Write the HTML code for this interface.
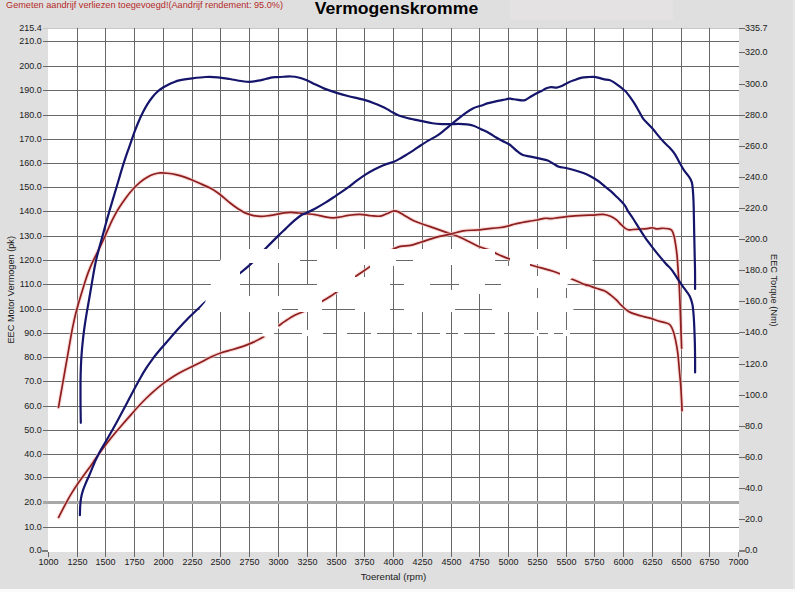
<!DOCTYPE html>
<html><head><meta charset="utf-8"><style>
html,body{margin:0;padding:0;background:#dfdfdf;}
svg{display:block;}
text{font-family:"Liberation Sans",sans-serif;}
</style></head><body>
<svg width="795" height="592" viewBox="0 0 795 592">
<defs><clipPath id="isl"><rect x="240" y="263" width="67" height="33"/><rect x="300" y="240" width="17" height="45"/><rect x="322" y="292" width="33" height="23"/><rect x="355" y="265" width="15" height="12"/><rect x="390" y="266" width="14" height="56"/><rect x="396" y="255" width="17" height="11"/><rect x="430" y="265" width="29" height="25"/><rect x="455" y="294" width="37" height="28"/><rect x="485" y="278" width="16" height="12"/><rect x="495" y="240" width="15" height="26"/><rect x="530" y="264" width="30" height="12"/><rect x="530" y="288" width="40" height="10"/><rect x="282" y="305" width="16" height="7"/></clipPath></defs>
<rect x="0" y="0" width="795" height="592" fill="#dfdfdf"/><rect x="510" y="0" width="163" height="20" fill="#e4e2e3"/><rect x="0" y="589" width="795" height="3" fill="#fbfbfb"/><rect x="793" y="0" width="2" height="589" fill="#e6e6e6"/><rect x="48" y="28" width="691" height="524" fill="#ffffff"/><line x1="48.5" y1="552" x2="48.5" y2="557" stroke="#686868" stroke-width="1"/><line x1="738.5" y1="552" x2="738.5" y2="557" stroke="#686868" stroke-width="1"/><line x1="43" y1="28.5" x2="739" y2="28.5" stroke="#c8c8c8" stroke-width="1"/><rect x="42" y="550" width="6" height="2" fill="#808080"/><rect x="739" y="550" width="6" height="2" fill="#808080"/><line x1="739" y1="519.5" x2="745" y2="519.5" stroke="#686868" stroke-width="1"/><line x1="739" y1="488.5" x2="745" y2="488.5" stroke="#686868" stroke-width="1"/><line x1="739" y1="457.5" x2="745" y2="457.5" stroke="#686868" stroke-width="1"/><line x1="739" y1="426.5" x2="745" y2="426.5" stroke="#686868" stroke-width="1"/><line x1="739" y1="395.5" x2="745" y2="395.5" stroke="#686868" stroke-width="1"/><line x1="739" y1="364.5" x2="745" y2="364.5" stroke="#686868" stroke-width="1"/><line x1="739" y1="332.5" x2="745" y2="332.5" stroke="#686868" stroke-width="1"/><line x1="739" y1="301.5" x2="745" y2="301.5" stroke="#686868" stroke-width="1"/><line x1="739" y1="270.5" x2="745" y2="270.5" stroke="#686868" stroke-width="1"/><line x1="739" y1="239.5" x2="745" y2="239.5" stroke="#686868" stroke-width="1"/><line x1="739" y1="208.5" x2="745" y2="208.5" stroke="#686868" stroke-width="1"/><line x1="739" y1="177.5" x2="745" y2="177.5" stroke="#686868" stroke-width="1"/><line x1="739" y1="146.5" x2="745" y2="146.5" stroke="#686868" stroke-width="1"/><line x1="739" y1="115.5" x2="745" y2="115.5" stroke="#686868" stroke-width="1"/><line x1="739" y1="84.5" x2="745" y2="84.5" stroke="#686868" stroke-width="1"/><line x1="739" y1="52.5" x2="745" y2="52.5" stroke="#686868" stroke-width="1"/><line x1="739" y1="28.5" x2="745" y2="28.5" stroke="#686868" stroke-width="1"/>
<g id="pl">
<line x1="77.5" y1="28" x2="77.5" y2="557" stroke="#686868" stroke-width="1"/><line x1="105.5" y1="28" x2="105.5" y2="557" stroke="#686868" stroke-width="1"/><line x1="134.5" y1="28" x2="134.5" y2="557" stroke="#686868" stroke-width="1"/><line x1="163.5" y1="28" x2="163.5" y2="557" stroke="#686868" stroke-width="1"/><line x1="192.5" y1="28" x2="192.5" y2="557" stroke="#686868" stroke-width="1"/><line x1="220.5" y1="28" x2="220.5" y2="557" stroke="#686868" stroke-width="1"/><line x1="249.5" y1="28" x2="249.5" y2="557" stroke="#686868" stroke-width="1"/><line x1="278.5" y1="28" x2="278.5" y2="557" stroke="#686868" stroke-width="1"/><line x1="307.5" y1="28" x2="307.5" y2="557" stroke="#686868" stroke-width="1"/><line x1="336.5" y1="28" x2="336.5" y2="557" stroke="#686868" stroke-width="1"/><line x1="364.5" y1="28" x2="364.5" y2="557" stroke="#686868" stroke-width="1"/><line x1="393.5" y1="28" x2="393.5" y2="557" stroke="#686868" stroke-width="1"/><line x1="422.5" y1="28" x2="422.5" y2="557" stroke="#686868" stroke-width="1"/><line x1="451.5" y1="28" x2="451.5" y2="557" stroke="#686868" stroke-width="1"/><line x1="479.5" y1="28" x2="479.5" y2="557" stroke="#686868" stroke-width="1"/><line x1="508.5" y1="28" x2="508.5" y2="557" stroke="#686868" stroke-width="1"/><line x1="537.5" y1="28" x2="537.5" y2="557" stroke="#686868" stroke-width="1"/><line x1="566.5" y1="28" x2="566.5" y2="557" stroke="#686868" stroke-width="1"/><line x1="594.5" y1="28" x2="594.5" y2="557" stroke="#686868" stroke-width="1"/><line x1="623.5" y1="28" x2="623.5" y2="557" stroke="#686868" stroke-width="1"/><line x1="652.5" y1="28" x2="652.5" y2="557" stroke="#686868" stroke-width="1"/><line x1="681.5" y1="28" x2="681.5" y2="557" stroke="#686868" stroke-width="1"/><line x1="709.5" y1="28" x2="709.5" y2="557" stroke="#686868" stroke-width="1"/><line x1="43" y1="527.5" x2="739" y2="527.5" stroke="#686868" stroke-width="1"/><rect x="43" y="501" width="696" height="3" fill="#a8a8a8"/><line x1="43" y1="477.5" x2="739" y2="477.5" stroke="#686868" stroke-width="1"/><line x1="43" y1="454.5" x2="739" y2="454.5" stroke="#686868" stroke-width="1"/><line x1="43" y1="430.5" x2="739" y2="430.5" stroke="#686868" stroke-width="1"/><line x1="43" y1="406.5" x2="739" y2="406.5" stroke="#686868" stroke-width="1"/><line x1="43" y1="381.5" x2="739" y2="381.5" stroke="#686868" stroke-width="1"/><line x1="43" y1="357.5" x2="739" y2="357.5" stroke="#686868" stroke-width="1"/><line x1="43" y1="333.5" x2="739" y2="333.5" stroke="#686868" stroke-width="1"/><line x1="43" y1="309.5" x2="739" y2="309.5" stroke="#686868" stroke-width="1"/><line x1="43" y1="284.5" x2="739" y2="284.5" stroke="#686868" stroke-width="1"/><line x1="43" y1="260.5" x2="739" y2="260.5" stroke="#686868" stroke-width="1"/><line x1="43" y1="236.5" x2="739" y2="236.5" stroke="#686868" stroke-width="1"/><line x1="43" y1="211.5" x2="739" y2="211.5" stroke="#686868" stroke-width="1"/><line x1="43" y1="187.5" x2="739" y2="187.5" stroke="#686868" stroke-width="1"/><line x1="43" y1="163.5" x2="739" y2="163.5" stroke="#686868" stroke-width="1"/><line x1="43" y1="139.5" x2="739" y2="139.5" stroke="#686868" stroke-width="1"/><line x1="43" y1="115.5" x2="739" y2="115.5" stroke="#686868" stroke-width="1"/><line x1="43" y1="90.5" x2="739" y2="90.5" stroke="#686868" stroke-width="1"/><line x1="43" y1="66.5" x2="739" y2="66.5" stroke="#686868" stroke-width="1"/><line x1="43" y1="41.5" x2="739" y2="41.5" stroke="#686868" stroke-width="1"/>
<path d="M58.50,407.40 C58.82,405.54 59.76,400.10 60.44,396.26 C61.11,392.43 61.83,388.36 62.54,384.38 C63.24,380.40 63.97,376.27 64.66,372.37 C65.35,368.47 66.02,364.70 66.68,360.96 C67.33,357.22 67.94,353.71 68.60,349.93 C69.26,346.14 69.89,342.28 70.61,338.28 C71.34,334.28 72.11,329.96 72.94,325.91 C73.78,321.87 74.67,317.84 75.62,314.01 C76.56,310.18 77.57,306.56 78.61,302.93 C79.64,299.29 80.78,295.61 81.83,292.18 C82.88,288.74 83.91,285.39 84.89,282.34 C85.87,279.30 86.72,276.60 87.70,273.90 C88.68,271.20 89.68,268.70 90.76,266.17 C91.85,263.64 93.02,261.20 94.20,258.73 C95.38,256.25 96.61,253.84 97.85,251.34 C99.09,248.83 100.39,246.25 101.61,243.69 C102.83,241.13 103.99,238.61 105.16,235.98 C106.33,233.35 107.33,230.81 108.64,227.92 C109.94,225.03 111.29,221.89 112.98,218.62 C114.67,215.36 116.66,211.73 118.76,208.32 C120.87,204.92 123.27,201.37 125.62,198.19 C127.97,195.02 130.43,191.94 132.86,189.26 C135.30,186.57 137.76,184.14 140.23,182.09 C142.69,180.05 145.27,178.34 147.64,176.99 C150.00,175.65 152.29,174.72 154.42,174.04 C156.55,173.37 158.29,173.07 160.42,172.94 C162.56,172.81 164.68,172.97 167.24,173.24 C169.80,173.51 172.87,173.92 175.78,174.57 C178.69,175.23 181.91,176.22 184.72,177.17 C187.53,178.12 189.87,179.11 192.65,180.27 C195.44,181.43 198.50,182.82 201.42,184.12 C204.33,185.42 207.45,186.62 210.16,188.05 C212.86,189.48 215.36,191.11 217.64,192.72 C219.92,194.32 221.82,195.99 223.86,197.66 C225.89,199.34 227.86,201.15 229.86,202.74 C231.85,204.34 233.90,205.87 235.82,207.22 C237.75,208.57 239.77,209.83 241.41,210.82 C243.06,211.80 243.67,212.33 245.71,213.13 C247.74,213.94 251.02,215.09 253.62,215.64 C256.22,216.19 258.69,216.46 261.30,216.44 C263.92,216.42 266.36,215.97 269.29,215.54 C272.22,215.12 276.41,214.33 278.87,213.88 C281.33,213.42 282.02,213.04 284.04,212.80 C286.06,212.56 288.59,212.40 291.00,212.43 C293.40,212.47 295.93,212.78 298.46,213.00 C300.99,213.22 303.42,213.47 306.17,213.75 C308.91,214.04 311.97,214.24 314.93,214.71 C317.88,215.19 320.94,216.09 323.89,216.61 C326.84,217.13 329.90,217.76 332.65,217.83 C335.40,217.90 337.74,217.45 340.39,217.03 C343.03,216.62 345.29,215.78 348.54,215.33 C351.78,214.87 356.04,214.23 359.83,214.31 C363.63,214.38 367.91,215.45 371.32,215.76 C374.73,216.07 377.73,216.49 380.30,216.15 C382.87,215.82 384.70,214.56 386.73,213.74 C388.77,212.92 390.74,211.63 392.50,211.23 C394.26,210.84 395.41,210.74 397.27,211.36 C399.14,211.98 400.95,213.38 403.68,214.95 C406.42,216.52 410.11,219.12 413.70,220.79 C417.30,222.46 421.43,223.60 425.24,224.96 C429.05,226.31 432.41,227.48 436.54,228.92 C440.66,230.37 446.11,232.25 449.99,233.63 C453.87,235.00 456.67,235.84 459.81,237.16 C462.96,238.48 465.81,240.02 468.85,241.54 C471.88,243.06 474.83,244.95 478.04,246.28 C481.25,247.62 484.82,248.25 488.10,249.57 C491.39,250.88 494.38,252.68 497.75,254.18 C501.12,255.67 505.62,257.59 508.32,258.54 C511.02,259.49 509.65,258.62 513.98,259.85 C518.31,261.09 527.42,263.93 534.30,265.96 C541.17,267.98 549.38,270.03 555.24,272.02 C561.10,274.02 564.37,275.76 569.45,277.93 C574.53,280.10 583.08,283.96 585.75,285.06 C588.42,286.15 584.78,284.33 585.47,284.49 C586.17,284.65 588.13,285.40 589.93,286.03 C591.72,286.66 593.84,287.45 596.25,288.25 C598.65,289.05 601.94,289.69 604.36,290.83 C606.77,291.97 608.72,293.54 610.75,295.10 C612.78,296.67 614.74,298.47 616.56,300.23 C618.38,301.99 619.67,303.77 621.67,305.65 C623.66,307.53 626.16,310.06 628.54,311.51 C630.93,312.97 633.49,313.55 635.97,314.40 C638.46,315.24 640.96,315.91 643.45,316.58 C645.95,317.24 648.45,317.66 650.94,318.39 C653.43,319.12 655.98,320.23 658.40,320.95 C660.82,321.67 663.48,322.02 665.44,322.69 C667.39,323.36 668.84,323.55 670.14,324.98 C671.45,326.41 672.35,328.73 673.27,331.30 C674.18,333.87 674.87,336.80 675.62,340.40 C676.37,344.01 677.14,347.94 677.77,352.94 C678.39,357.93 678.87,364.90 679.37,370.38 C679.87,375.87 680.39,380.92 680.76,385.87 C681.13,390.83 681.35,395.98 681.57,400.11 C681.79,404.23 681.99,408.88 682.07,410.64" fill="none" stroke="#f6c4c4" stroke-width="4" stroke-linejoin="round" stroke-linecap="round" opacity="0.6"/>
<path d="M58.50,407.40 C58.82,405.54 59.76,400.10 60.44,396.26 C61.11,392.43 61.83,388.36 62.54,384.38 C63.24,380.40 63.97,376.27 64.66,372.37 C65.35,368.47 66.02,364.70 66.68,360.96 C67.33,357.22 67.94,353.71 68.60,349.93 C69.26,346.14 69.89,342.28 70.61,338.28 C71.34,334.28 72.11,329.96 72.94,325.91 C73.78,321.87 74.67,317.84 75.62,314.01 C76.56,310.18 77.57,306.56 78.61,302.93 C79.64,299.29 80.78,295.61 81.83,292.18 C82.88,288.74 83.91,285.39 84.89,282.34 C85.87,279.30 86.72,276.60 87.70,273.90 C88.68,271.20 89.68,268.70 90.76,266.17 C91.85,263.64 93.02,261.20 94.20,258.73 C95.38,256.25 96.61,253.84 97.85,251.34 C99.09,248.83 100.39,246.25 101.61,243.69 C102.83,241.13 103.99,238.61 105.16,235.98 C106.33,233.35 107.33,230.81 108.64,227.92 C109.94,225.03 111.29,221.89 112.98,218.62 C114.67,215.36 116.66,211.73 118.76,208.32 C120.87,204.92 123.27,201.37 125.62,198.19 C127.97,195.02 130.43,191.94 132.86,189.26 C135.30,186.57 137.76,184.14 140.23,182.09 C142.69,180.05 145.27,178.34 147.64,176.99 C150.00,175.65 152.29,174.72 154.42,174.04 C156.55,173.37 158.29,173.07 160.42,172.94 C162.56,172.81 164.68,172.97 167.24,173.24 C169.80,173.51 172.87,173.92 175.78,174.57 C178.69,175.23 181.91,176.22 184.72,177.17 C187.53,178.12 189.87,179.11 192.65,180.27 C195.44,181.43 198.50,182.82 201.42,184.12 C204.33,185.42 207.45,186.62 210.16,188.05 C212.86,189.48 215.36,191.11 217.64,192.72 C219.92,194.32 221.82,195.99 223.86,197.66 C225.89,199.34 227.86,201.15 229.86,202.74 C231.85,204.34 233.90,205.87 235.82,207.22 C237.75,208.57 239.77,209.83 241.41,210.82 C243.06,211.80 243.67,212.33 245.71,213.13 C247.74,213.94 251.02,215.09 253.62,215.64 C256.22,216.19 258.69,216.46 261.30,216.44 C263.92,216.42 266.36,215.97 269.29,215.54 C272.22,215.12 276.41,214.33 278.87,213.88 C281.33,213.42 282.02,213.04 284.04,212.80 C286.06,212.56 288.59,212.40 291.00,212.43 C293.40,212.47 295.93,212.78 298.46,213.00 C300.99,213.22 303.42,213.47 306.17,213.75 C308.91,214.04 311.97,214.24 314.93,214.71 C317.88,215.19 320.94,216.09 323.89,216.61 C326.84,217.13 329.90,217.76 332.65,217.83 C335.40,217.90 337.74,217.45 340.39,217.03 C343.03,216.62 345.29,215.78 348.54,215.33 C351.78,214.87 356.04,214.23 359.83,214.31 C363.63,214.38 367.91,215.45 371.32,215.76 C374.73,216.07 377.73,216.49 380.30,216.15 C382.87,215.82 384.70,214.56 386.73,213.74 C388.77,212.92 390.74,211.63 392.50,211.23 C394.26,210.84 395.41,210.74 397.27,211.36 C399.14,211.98 400.95,213.38 403.68,214.95 C406.42,216.52 410.11,219.12 413.70,220.79 C417.30,222.46 421.43,223.60 425.24,224.96 C429.05,226.31 432.41,227.48 436.54,228.92 C440.66,230.37 446.11,232.25 449.99,233.63 C453.87,235.00 456.67,235.84 459.81,237.16 C462.96,238.48 465.81,240.02 468.85,241.54 C471.88,243.06 474.83,244.95 478.04,246.28 C481.25,247.62 484.82,248.25 488.10,249.57 C491.39,250.88 494.38,252.68 497.75,254.18 C501.12,255.67 505.62,257.59 508.32,258.54 C511.02,259.49 509.65,258.62 513.98,259.85 C518.31,261.09 527.42,263.93 534.30,265.96 C541.17,267.98 549.38,270.03 555.24,272.02 C561.10,274.02 564.37,275.76 569.45,277.93 C574.53,280.10 583.08,283.96 585.75,285.06 C588.42,286.15 584.78,284.33 585.47,284.49 C586.17,284.65 588.13,285.40 589.93,286.03 C591.72,286.66 593.84,287.45 596.25,288.25 C598.65,289.05 601.94,289.69 604.36,290.83 C606.77,291.97 608.72,293.54 610.75,295.10 C612.78,296.67 614.74,298.47 616.56,300.23 C618.38,301.99 619.67,303.77 621.67,305.65 C623.66,307.53 626.16,310.06 628.54,311.51 C630.93,312.97 633.49,313.55 635.97,314.40 C638.46,315.24 640.96,315.91 643.45,316.58 C645.95,317.24 648.45,317.66 650.94,318.39 C653.43,319.12 655.98,320.23 658.40,320.95 C660.82,321.67 663.48,322.02 665.44,322.69 C667.39,323.36 668.84,323.55 670.14,324.98 C671.45,326.41 672.35,328.73 673.27,331.30 C674.18,333.87 674.87,336.80 675.62,340.40 C676.37,344.01 677.14,347.94 677.77,352.94 C678.39,357.93 678.87,364.90 679.37,370.38 C679.87,375.87 680.39,380.92 680.76,385.87 C681.13,390.83 681.35,395.98 681.57,400.11 C681.79,404.23 681.99,408.88 682.07,410.64" fill="none" stroke="#8e1f1f" stroke-width="1.7" stroke-linejoin="round" stroke-linecap="round"/>
<path d="M58.60,517.30 C59.24,516.07 61.07,512.52 62.42,509.94 C63.77,507.37 65.14,504.69 66.70,501.85 C68.26,499.01 69.96,495.95 71.81,492.93 C73.65,489.91 75.73,486.70 77.77,483.71 C79.81,480.73 82.03,477.76 84.03,475.01 C86.03,472.26 87.95,469.75 89.76,467.21 C91.56,464.68 93.10,462.36 94.86,459.81 C96.61,457.27 98.29,454.72 100.30,451.94 C102.31,449.17 104.56,446.17 106.93,443.14 C109.29,440.12 111.92,436.91 114.50,433.81 C117.08,430.70 119.76,427.59 122.41,424.53 C125.06,421.46 127.80,418.35 130.41,415.39 C133.03,412.43 135.60,409.51 138.11,406.78 C140.62,404.04 142.89,401.58 145.49,399.00 C148.08,396.42 150.70,393.90 153.69,391.29 C156.67,388.69 160.05,385.88 163.39,383.36 C166.74,380.85 170.44,378.31 173.78,376.20 C177.12,374.09 180.52,372.26 183.44,370.72 C186.36,369.17 189.51,367.80 191.30,366.95 C193.09,366.10 192.09,366.63 194.18,365.60 C196.27,364.56 200.83,362.26 203.82,360.73 C206.80,359.20 209.19,357.76 212.11,356.43 C215.03,355.09 217.89,353.87 221.34,352.72 C224.80,351.56 229.01,350.64 232.85,349.50 C236.68,348.36 240.91,347.09 244.36,345.86 C247.81,344.63 250.76,343.38 253.55,342.13 C256.33,340.87 258.67,339.72 261.09,338.35 C263.51,336.97 265.25,335.88 268.08,333.87 C270.90,331.86 275.14,328.46 278.05,326.29 C280.97,324.13 282.73,322.77 285.58,320.89 C288.43,319.01 291.83,316.76 295.16,315.02 C298.49,313.28 300.40,313.11 305.55,310.45 C310.70,307.79 320.56,302.39 326.06,299.07 C331.57,295.76 333.84,294.21 338.59,290.56 C343.34,286.90 349.47,281.03 354.57,277.13 C359.68,273.22 363.28,271.51 369.20,267.15 C375.12,262.78 384.90,254.41 390.09,250.95 C395.28,247.48 396.95,247.30 400.35,246.37 C403.76,245.44 406.97,246.10 410.51,245.36 C414.06,244.62 417.39,243.29 421.62,241.95 C425.86,240.60 431.11,238.62 435.92,237.31 C440.72,236.00 445.88,235.17 450.44,234.09 C454.99,233.00 458.83,231.48 463.24,230.81 C467.66,230.13 472.95,230.35 476.94,230.01 C480.94,229.68 483.60,229.18 487.21,228.80 C490.82,228.43 495.02,228.24 498.63,227.74 C502.23,227.25 506.27,226.41 508.84,225.82 C511.41,225.23 512.01,224.74 514.04,224.23 C516.07,223.71 518.57,223.22 521.01,222.73 C523.44,222.24 525.97,221.74 528.67,221.29 C531.37,220.83 534.54,220.50 537.21,220.00 C539.88,219.50 542.37,218.54 544.69,218.30 C547.01,218.07 548.84,218.72 551.12,218.60 C553.41,218.48 555.91,217.89 558.41,217.58 C560.91,217.26 563.36,217.00 566.10,216.70 C568.85,216.40 571.88,216.01 574.88,215.78 C577.87,215.55 580.85,215.42 584.05,215.30 C587.26,215.18 590.92,215.20 594.09,215.04 C597.25,214.87 600.31,214.11 603.05,214.31 C605.79,214.52 608.28,215.31 610.53,216.25 C612.78,217.19 614.75,218.54 616.53,219.96 C618.30,221.37 619.74,223.34 621.20,224.73 C622.66,226.13 624.06,227.49 625.31,228.34 C626.56,229.19 627.39,229.66 628.71,229.85 C630.04,230.05 631.45,229.63 633.23,229.51 C635.02,229.39 637.06,229.29 639.40,229.13 C641.74,228.98 645.11,228.81 647.28,228.58 C649.45,228.35 650.79,227.69 652.40,227.75 C654.01,227.81 655.37,228.84 656.95,228.93 C658.52,229.02 659.96,228.31 661.84,228.28 C663.72,228.25 666.58,228.43 668.23,228.76 C669.88,229.10 670.78,229.08 671.74,230.28 C672.71,231.48 673.37,233.55 674.02,235.95 C674.67,238.35 675.13,241.49 675.62,244.69 C676.12,247.89 676.64,251.45 677.02,255.14 C677.39,258.84 677.61,263.00 677.88,266.86 C678.14,270.73 678.38,274.72 678.63,278.33 C678.88,281.94 679.13,283.90 679.38,288.53 C679.63,293.16 679.88,299.60 680.13,306.11 C680.38,312.62 680.62,320.59 680.87,327.59 C681.12,334.59 681.50,344.69 681.62,348.11" fill="none" stroke="#f6c4c4" stroke-width="4" stroke-linejoin="round" stroke-linecap="round" opacity="0.6"/>
<path d="M58.60,517.30 C59.24,516.07 61.07,512.52 62.42,509.94 C63.77,507.37 65.14,504.69 66.70,501.85 C68.26,499.01 69.96,495.95 71.81,492.93 C73.65,489.91 75.73,486.70 77.77,483.71 C79.81,480.73 82.03,477.76 84.03,475.01 C86.03,472.26 87.95,469.75 89.76,467.21 C91.56,464.68 93.10,462.36 94.86,459.81 C96.61,457.27 98.29,454.72 100.30,451.94 C102.31,449.17 104.56,446.17 106.93,443.14 C109.29,440.12 111.92,436.91 114.50,433.81 C117.08,430.70 119.76,427.59 122.41,424.53 C125.06,421.46 127.80,418.35 130.41,415.39 C133.03,412.43 135.60,409.51 138.11,406.78 C140.62,404.04 142.89,401.58 145.49,399.00 C148.08,396.42 150.70,393.90 153.69,391.29 C156.67,388.69 160.05,385.88 163.39,383.36 C166.74,380.85 170.44,378.31 173.78,376.20 C177.12,374.09 180.52,372.26 183.44,370.72 C186.36,369.17 189.51,367.80 191.30,366.95 C193.09,366.10 192.09,366.63 194.18,365.60 C196.27,364.56 200.83,362.26 203.82,360.73 C206.80,359.20 209.19,357.76 212.11,356.43 C215.03,355.09 217.89,353.87 221.34,352.72 C224.80,351.56 229.01,350.64 232.85,349.50 C236.68,348.36 240.91,347.09 244.36,345.86 C247.81,344.63 250.76,343.38 253.55,342.13 C256.33,340.87 258.67,339.72 261.09,338.35 C263.51,336.97 265.25,335.88 268.08,333.87 C270.90,331.86 275.14,328.46 278.05,326.29 C280.97,324.13 282.73,322.77 285.58,320.89 C288.43,319.01 291.83,316.76 295.16,315.02 C298.49,313.28 300.40,313.11 305.55,310.45 C310.70,307.79 320.56,302.39 326.06,299.07 C331.57,295.76 333.84,294.21 338.59,290.56 C343.34,286.90 349.47,281.03 354.57,277.13 C359.68,273.22 363.28,271.51 369.20,267.15 C375.12,262.78 384.90,254.41 390.09,250.95 C395.28,247.48 396.95,247.30 400.35,246.37 C403.76,245.44 406.97,246.10 410.51,245.36 C414.06,244.62 417.39,243.29 421.62,241.95 C425.86,240.60 431.11,238.62 435.92,237.31 C440.72,236.00 445.88,235.17 450.44,234.09 C454.99,233.00 458.83,231.48 463.24,230.81 C467.66,230.13 472.95,230.35 476.94,230.01 C480.94,229.68 483.60,229.18 487.21,228.80 C490.82,228.43 495.02,228.24 498.63,227.74 C502.23,227.25 506.27,226.41 508.84,225.82 C511.41,225.23 512.01,224.74 514.04,224.23 C516.07,223.71 518.57,223.22 521.01,222.73 C523.44,222.24 525.97,221.74 528.67,221.29 C531.37,220.83 534.54,220.50 537.21,220.00 C539.88,219.50 542.37,218.54 544.69,218.30 C547.01,218.07 548.84,218.72 551.12,218.60 C553.41,218.48 555.91,217.89 558.41,217.58 C560.91,217.26 563.36,217.00 566.10,216.70 C568.85,216.40 571.88,216.01 574.88,215.78 C577.87,215.55 580.85,215.42 584.05,215.30 C587.26,215.18 590.92,215.20 594.09,215.04 C597.25,214.87 600.31,214.11 603.05,214.31 C605.79,214.52 608.28,215.31 610.53,216.25 C612.78,217.19 614.75,218.54 616.53,219.96 C618.30,221.37 619.74,223.34 621.20,224.73 C622.66,226.13 624.06,227.49 625.31,228.34 C626.56,229.19 627.39,229.66 628.71,229.85 C630.04,230.05 631.45,229.63 633.23,229.51 C635.02,229.39 637.06,229.29 639.40,229.13 C641.74,228.98 645.11,228.81 647.28,228.58 C649.45,228.35 650.79,227.69 652.40,227.75 C654.01,227.81 655.37,228.84 656.95,228.93 C658.52,229.02 659.96,228.31 661.84,228.28 C663.72,228.25 666.58,228.43 668.23,228.76 C669.88,229.10 670.78,229.08 671.74,230.28 C672.71,231.48 673.37,233.55 674.02,235.95 C674.67,238.35 675.13,241.49 675.62,244.69 C676.12,247.89 676.64,251.45 677.02,255.14 C677.39,258.84 677.61,263.00 677.88,266.86 C678.14,270.73 678.38,274.72 678.63,278.33 C678.88,281.94 679.13,283.90 679.38,288.53 C679.63,293.16 679.88,299.60 680.13,306.11 C680.38,312.62 680.62,320.59 680.87,327.59 C681.12,334.59 681.50,344.69 681.62,348.11" fill="none" stroke="#8e1f1f" stroke-width="1.7" stroke-linejoin="round" stroke-linecap="round"/>
<path d="M80.80,422.80 C80.75,419.25 80.55,408.23 80.51,401.51 C80.46,394.78 80.45,388.30 80.51,382.45 C80.58,376.60 80.71,371.39 80.91,366.41 C81.11,361.44 81.38,357.02 81.72,352.59 C82.05,348.17 82.48,343.97 82.92,339.88 C83.36,335.78 83.85,331.85 84.37,328.01 C84.89,324.17 85.44,320.62 86.06,316.82 C86.67,313.03 87.37,309.17 88.06,305.24 C88.74,301.30 89.51,297.01 90.16,293.21 C90.82,289.40 91.43,285.75 91.99,282.41 C92.56,279.08 93.02,276.22 93.56,273.19 C94.09,270.17 94.61,267.25 95.22,264.26 C95.84,261.27 96.53,258.21 97.26,255.26 C97.99,252.30 98.81,249.42 99.61,246.53 C100.40,243.63 101.22,240.84 102.04,237.88 C102.85,234.92 103.64,231.93 104.49,228.76 C105.35,225.59 106.24,222.22 107.18,218.86 C108.12,215.49 109.13,211.99 110.13,208.57 C111.13,205.16 112.16,201.76 113.17,198.37 C114.19,194.97 115.21,191.60 116.22,188.20 C117.23,184.80 118.23,181.38 119.24,177.95 C120.26,174.52 121.26,171.06 122.32,167.65 C123.38,164.24 124.49,160.78 125.59,157.46 C126.70,154.15 127.87,150.86 128.94,147.77 C130.02,144.69 131.01,141.83 132.03,138.95 C133.04,136.07 133.95,133.39 135.05,130.47 C136.15,127.56 137.34,124.50 138.65,121.46 C139.96,118.42 141.44,115.17 142.94,112.24 C144.43,109.32 146.02,106.45 147.62,103.90 C149.22,101.35 150.86,99.02 152.53,96.96 C154.20,94.89 155.88,93.09 157.63,91.51 C159.38,89.93 161.19,88.64 163.02,87.46 C164.85,86.29 166.80,85.33 168.60,84.45 C170.41,83.57 172.05,82.87 173.84,82.19 C175.62,81.50 176.21,80.99 179.29,80.35 C182.36,79.71 187.88,78.90 192.28,78.34 C196.68,77.78 201.40,77.19 205.67,77.01 C209.93,76.84 213.84,76.95 217.87,77.29 C221.90,77.62 225.94,78.40 229.82,79.02 C233.70,79.64 237.87,80.54 241.15,81.02 C244.43,81.49 246.68,81.91 249.50,81.86 C252.32,81.81 255.37,81.18 258.08,80.70 C260.78,80.22 263.32,79.52 265.74,78.98 C268.15,78.44 270.75,77.75 272.57,77.44 C274.40,77.13 274.87,77.24 276.69,77.12 C278.52,77.00 281.14,76.83 283.52,76.73 C285.90,76.63 288.48,76.37 290.97,76.49 C293.46,76.61 295.93,76.86 298.46,77.45 C301.00,78.04 303.42,78.90 306.17,80.03 C308.91,81.15 311.92,82.78 314.95,84.22 C317.98,85.65 320.87,87.22 324.36,88.63 C327.85,90.03 331.99,91.40 335.90,92.64 C339.80,93.87 343.97,95.05 347.81,96.03 C351.64,97.02 355.89,97.84 358.92,98.57 C361.95,99.30 363.60,99.67 366.00,100.40 C368.40,101.14 370.85,102.04 373.31,102.98 C375.76,103.91 378.37,104.95 380.75,106.02 C383.12,107.09 385.75,108.42 387.57,109.40 C389.40,110.38 389.84,110.89 391.70,111.90 C393.57,112.90 396.04,114.38 398.78,115.43 C401.52,116.48 404.49,117.29 408.15,118.20 C411.81,119.11 416.67,120.03 420.72,120.87 C424.77,121.71 428.92,122.72 432.44,123.25 C435.97,123.78 438.83,123.92 441.86,124.07 C444.90,124.21 447.87,124.14 450.66,124.13 C453.44,124.11 455.85,123.94 458.56,123.97 C461.26,124.00 464.40,124.03 466.90,124.33 C469.40,124.63 471.19,124.96 473.55,125.77 C475.90,126.58 478.40,127.94 481.03,129.18 C483.66,130.41 486.89,131.83 489.35,133.17 C491.80,134.52 493.65,135.96 495.77,137.23 C497.89,138.50 499.85,139.60 502.07,140.78 C504.29,141.95 507.34,143.21 509.09,144.28 C510.84,145.34 511.09,145.93 512.54,147.16 C514.00,148.40 516.06,150.38 517.79,151.68 C519.53,152.97 520.83,154.11 522.93,154.94 C525.04,155.76 527.57,155.99 530.41,156.60 C533.25,157.21 537.11,157.96 539.98,158.61 C542.85,159.27 545.37,159.66 547.65,160.54 C549.94,161.41 551.82,162.82 553.68,163.87 C555.55,164.92 556.80,166.13 558.84,166.81 C560.88,167.49 563.42,167.40 565.92,167.95 C568.41,168.49 570.88,169.21 573.80,170.06 C576.71,170.91 580.48,171.93 583.40,173.05 C586.32,174.17 588.76,175.42 591.29,176.79 C593.82,178.16 596.33,179.69 598.58,181.27 C600.83,182.86 602.75,184.66 604.78,186.30 C606.81,187.94 608.81,189.37 610.77,191.10 C612.73,192.83 614.80,194.95 616.54,196.66 C618.27,198.36 619.76,199.82 621.19,201.35 C622.62,202.88 624.02,204.28 625.10,205.83 C626.18,207.38 626.34,208.52 627.65,210.63 C628.97,212.74 631.12,215.60 633.01,218.49 C634.89,221.38 636.95,224.77 638.97,227.97 C641.00,231.17 642.96,234.49 645.17,237.68 C647.38,240.86 649.98,244.19 652.23,247.09 C654.47,249.99 656.39,252.38 658.63,255.10 C660.87,257.82 663.55,261.03 665.66,263.41 C667.77,265.79 669.80,267.61 671.28,269.36 C672.76,271.12 673.38,272.22 674.53,273.94 C675.69,275.66 676.89,277.68 678.21,279.68 C679.53,281.68 681.04,283.96 682.45,285.94 C683.86,287.93 685.39,289.72 686.68,291.59 C687.97,293.47 689.22,295.05 690.18,297.21 C691.14,299.38 691.85,301.61 692.43,304.57 C693.00,307.54 693.29,311.04 693.61,315.02 C693.93,318.99 694.14,323.68 694.34,328.43 C694.55,333.17 694.73,338.47 694.86,343.47 C694.98,348.47 695.05,353.60 695.09,358.44 C695.13,363.28 695.10,370.16 695.10,372.50" fill="none" stroke="#15156b" stroke-width="2.2" stroke-linejoin="round" stroke-linecap="round"/>
<path d="M79.90,515.20 C79.95,513.70 79.99,509.10 80.18,506.23 C80.38,503.35 80.60,500.61 81.06,497.97 C81.53,495.33 82.16,492.90 82.96,490.40 C83.76,487.90 84.81,485.48 85.85,482.99 C86.89,480.50 88.10,477.96 89.18,475.45 C90.27,472.94 91.30,470.42 92.36,467.90 C93.42,465.38 94.31,462.97 95.54,460.31 C96.77,457.65 98.08,455.00 99.74,451.94 C101.40,448.88 103.45,445.48 105.49,441.96 C107.53,438.43 109.87,434.50 111.96,430.80 C114.06,427.10 116.13,423.33 118.05,419.77 C119.97,416.22 121.72,412.87 123.51,409.49 C125.29,406.11 126.98,402.91 128.78,399.50 C130.59,396.09 132.42,392.59 134.33,389.04 C136.24,385.50 138.23,381.74 140.23,378.23 C142.24,374.71 144.25,371.22 146.36,367.94 C148.47,364.66 150.56,361.65 152.90,358.54 C155.24,355.44 157.68,352.52 160.39,349.29 C163.10,346.07 166.11,342.69 169.17,339.18 C172.23,335.67 175.65,331.69 178.78,328.24 C181.90,324.78 184.92,321.47 187.92,318.43 C190.92,315.39 193.42,313.14 196.79,310.01 C200.16,306.88 201.42,305.41 208.14,299.66 C214.86,293.91 229.91,281.51 237.09,275.50 C244.27,269.50 246.63,267.97 251.21,263.65 C255.79,259.33 260.04,254.25 264.58,249.58 C269.11,244.91 274.91,239.08 278.40,235.63 C281.89,232.18 282.93,231.33 285.52,228.87 C288.11,226.40 291.21,223.19 293.94,220.84 C296.66,218.49 299.89,216.06 301.86,214.78 C303.83,213.50 303.57,214.19 305.76,213.17 C307.95,212.15 311.71,210.42 314.98,208.67 C318.25,206.92 321.89,204.85 325.41,202.67 C328.92,200.49 332.42,198.03 336.08,195.58 C339.75,193.12 343.95,190.44 347.40,187.94 C350.86,185.45 353.74,182.87 356.81,180.60 C359.88,178.34 362.81,176.23 365.81,174.34 C368.81,172.45 371.77,170.84 374.81,169.27 C377.85,167.70 380.89,166.17 384.06,164.93 C387.24,163.68 391.36,162.78 393.86,161.81 C396.36,160.84 397.02,160.26 399.04,159.11 C401.06,157.97 403.59,156.40 406.00,154.94 C408.40,153.48 410.96,151.97 413.45,150.36 C415.94,148.75 418.42,146.94 420.95,145.28 C423.48,143.61 425.94,141.97 428.64,140.36 C431.34,138.75 434.50,137.36 437.17,135.62 C439.84,133.89 442.34,131.81 444.66,129.96 C446.98,128.11 448.81,126.40 451.09,124.51 C453.38,122.63 455.91,120.58 458.37,118.64 C460.83,116.69 463.35,114.57 465.84,112.83 C468.34,111.09 470.83,109.37 473.33,108.19 C475.82,107.01 478.32,106.60 480.81,105.76 C483.31,104.92 485.80,103.86 488.30,103.14 C490.79,102.42 493.31,101.97 495.77,101.43 C498.24,100.90 500.89,100.39 503.11,99.94 C505.32,99.48 507.72,98.89 509.08,98.71 C510.44,98.52 510.05,98.68 511.29,98.83 C512.52,98.99 514.71,99.38 516.50,99.64 C518.29,99.91 520.46,100.42 522.03,100.42 C523.60,100.42 524.32,100.36 525.90,99.67 C527.47,98.98 529.57,97.37 531.46,96.26 C533.34,95.15 535.46,93.90 537.21,92.99 C538.95,92.07 540.38,91.58 541.91,90.78 C543.45,89.99 544.89,88.84 546.43,88.23 C547.96,87.62 549.41,87.23 551.12,87.11 C552.83,87.00 554.94,87.71 556.69,87.54 C558.43,87.37 559.82,86.87 561.60,86.10 C563.39,85.33 565.37,83.88 567.40,82.92 C569.43,81.96 571.38,81.22 573.80,80.34 C576.21,79.46 579.49,78.20 581.90,77.64 C584.32,77.09 586.26,77.15 588.30,77.03 C590.33,76.91 592.31,76.79 594.10,76.93 C595.88,77.08 597.27,77.49 599.01,77.90 C600.76,78.32 602.86,79.08 604.57,79.44 C606.29,79.80 607.71,79.58 609.28,80.06 C610.85,80.54 612.27,81.26 614.00,82.32 C615.72,83.38 617.91,85.11 619.62,86.44 C621.34,87.77 623.22,89.40 624.30,90.30 C625.37,91.20 625.10,90.69 626.07,91.84 C627.04,92.99 628.63,95.12 630.11,97.20 C631.60,99.28 633.52,101.97 635.00,104.32 C636.47,106.66 637.64,108.91 638.96,111.24 C640.29,113.57 641.44,116.19 642.93,118.30 C644.43,120.40 646.26,122.04 647.95,123.86 C649.64,125.69 651.41,127.32 653.08,129.24 C654.76,131.16 656.14,133.15 658.01,135.38 C659.87,137.60 662.27,140.45 664.30,142.60 C666.33,144.74 668.40,146.33 670.16,148.23 C671.93,150.14 673.34,151.68 674.88,154.03 C676.41,156.38 677.86,159.61 679.39,162.35 C680.92,165.08 682.42,167.97 684.07,170.43 C685.72,172.89 687.99,175.09 689.28,177.08 C690.58,179.07 691.25,180.22 691.85,182.37 C692.44,184.52 692.55,186.69 692.84,189.97 C693.12,193.25 693.35,196.46 693.55,202.05 C693.75,207.64 693.89,217.22 694.02,223.52 C694.15,229.82 694.24,234.63 694.35,239.87 C694.45,245.10 694.55,249.83 694.67,254.93 C694.78,260.04 694.96,264.83 695.03,270.51 C695.10,276.18 695.08,285.91 695.09,288.99" fill="none" stroke="#15156b" stroke-width="2.2" stroke-linejoin="round" stroke-linecap="round"/>
</g>
<path d="M225,249 L590,249 L593,262 L567,282 L574,312 L201,312 L199.5,309 L205,302.5 L211,284 L220,261 L221,259 Z M302,330 L323,330 L323,336 L302,336 Z M337,330 L347,330 L347,336 L337,336 Z M371,330 L377,330 L377,336 L371,336 Z M264,324 L277,322 L279,328 L270,338 L262,336 Z M412,330 L417,330 L417,336 L412,336 Z M440,330 L446,330 L446,336 L440,336 Z M458,330 L464,330 L464,336 L458,336 Z M495,330 L504,330 L504,336 L495,336 Z M534,330 L539,330 L539,336 L534,336 Z M548,330 L554,330 L554,336 L548,336 Z M563,330 L570,330 L570,336 L563,336 Z" fill="#ffffff"/><use href="#pl" clip-path="url(#isl)"/>
<text x="41.7" y="552.5" text-anchor="end" font-size="9.8" fill="#1a1a1a"  textLength="12.51" lengthAdjust="spacingAndGlyphs">0.0</text><text x="41.7" y="529.5" text-anchor="end" font-size="9.8" fill="#1a1a1a"  textLength="17.51" lengthAdjust="spacingAndGlyphs">10.0</text><text x="41.7" y="504.5" text-anchor="end" font-size="9.8" fill="#1a1a1a"  textLength="17.51" lengthAdjust="spacingAndGlyphs">20.0</text><text x="41.7" y="479.5" text-anchor="end" font-size="9.8" fill="#1a1a1a"  textLength="17.51" lengthAdjust="spacingAndGlyphs">30.0</text><text x="41.7" y="456.5" text-anchor="end" font-size="9.8" fill="#1a1a1a"  textLength="17.51" lengthAdjust="spacingAndGlyphs">40.0</text><text x="41.7" y="432.5" text-anchor="end" font-size="9.8" fill="#1a1a1a"  textLength="17.51" lengthAdjust="spacingAndGlyphs">50.0</text><text x="41.7" y="408.5" text-anchor="end" font-size="9.8" fill="#1a1a1a"  textLength="17.51" lengthAdjust="spacingAndGlyphs">60.0</text><text x="41.7" y="383.5" text-anchor="end" font-size="9.8" fill="#1a1a1a"  textLength="17.51" lengthAdjust="spacingAndGlyphs">70.0</text><text x="41.7" y="359.5" text-anchor="end" font-size="9.8" fill="#1a1a1a"  textLength="17.51" lengthAdjust="spacingAndGlyphs">80.0</text><text x="41.7" y="335.5" text-anchor="end" font-size="9.8" fill="#1a1a1a"  textLength="17.51" lengthAdjust="spacingAndGlyphs">90.0</text><text x="41.7" y="311.5" text-anchor="end" font-size="9.8" fill="#1a1a1a"  textLength="22.52" lengthAdjust="spacingAndGlyphs">100.0</text><text x="41.7" y="286.5" text-anchor="end" font-size="9.8" fill="#1a1a1a"  textLength="21.85" lengthAdjust="spacingAndGlyphs">110.0</text><text x="41.7" y="262.5" text-anchor="end" font-size="9.8" fill="#1a1a1a"  textLength="22.52" lengthAdjust="spacingAndGlyphs">120.0</text><text x="41.7" y="238.5" text-anchor="end" font-size="9.8" fill="#1a1a1a"  textLength="22.52" lengthAdjust="spacingAndGlyphs">130.0</text><text x="41.7" y="213.5" text-anchor="end" font-size="9.8" fill="#1a1a1a"  textLength="22.52" lengthAdjust="spacingAndGlyphs">140.0</text><text x="41.7" y="189.5" text-anchor="end" font-size="9.8" fill="#1a1a1a"  textLength="22.52" lengthAdjust="spacingAndGlyphs">150.0</text><text x="41.7" y="165.5" text-anchor="end" font-size="9.8" fill="#1a1a1a"  textLength="22.52" lengthAdjust="spacingAndGlyphs">160.0</text><text x="41.7" y="141.5" text-anchor="end" font-size="9.8" fill="#1a1a1a"  textLength="22.52" lengthAdjust="spacingAndGlyphs">170.0</text><text x="41.7" y="117.5" text-anchor="end" font-size="9.8" fill="#1a1a1a"  textLength="22.52" lengthAdjust="spacingAndGlyphs">180.0</text><text x="41.7" y="92.5" text-anchor="end" font-size="9.8" fill="#1a1a1a"  textLength="22.52" lengthAdjust="spacingAndGlyphs">190.0</text><text x="41.7" y="68.5" text-anchor="end" font-size="9.8" fill="#1a1a1a"  textLength="22.52" lengthAdjust="spacingAndGlyphs">200.0</text><text x="41.7" y="43.5" text-anchor="end" font-size="9.8" fill="#1a1a1a"  textLength="22.52" lengthAdjust="spacingAndGlyphs">210.0</text><text x="41.7" y="30.5" text-anchor="end" font-size="9.8" fill="#1a1a1a"  textLength="22.52" lengthAdjust="spacingAndGlyphs">215.4</text><text x="745" y="552.5" text-anchor="start" font-size="9.8" fill="#1a1a1a"  textLength="12.51" lengthAdjust="spacingAndGlyphs">0.0</text><text x="745" y="521.5" text-anchor="start" font-size="9.8" fill="#1a1a1a"  textLength="17.51" lengthAdjust="spacingAndGlyphs">20.0</text><text x="745" y="490.5" text-anchor="start" font-size="9.8" fill="#1a1a1a"  textLength="17.51" lengthAdjust="spacingAndGlyphs">40.0</text><text x="745" y="459.5" text-anchor="start" font-size="9.8" fill="#1a1a1a"  textLength="17.51" lengthAdjust="spacingAndGlyphs">60.0</text><text x="745" y="428.5" text-anchor="start" font-size="9.8" fill="#1a1a1a"  textLength="17.51" lengthAdjust="spacingAndGlyphs">80.0</text><text x="745" y="397.5" text-anchor="start" font-size="9.8" fill="#1a1a1a"  textLength="22.52" lengthAdjust="spacingAndGlyphs">100.0</text><text x="745" y="366.5" text-anchor="start" font-size="9.8" fill="#1a1a1a"  textLength="22.52" lengthAdjust="spacingAndGlyphs">120.0</text><text x="745" y="334.5" text-anchor="start" font-size="9.8" fill="#1a1a1a"  textLength="22.52" lengthAdjust="spacingAndGlyphs">140.0</text><text x="745" y="303.5" text-anchor="start" font-size="9.8" fill="#1a1a1a"  textLength="22.52" lengthAdjust="spacingAndGlyphs">160.0</text><text x="745" y="272.5" text-anchor="start" font-size="9.8" fill="#1a1a1a"  textLength="22.52" lengthAdjust="spacingAndGlyphs">180.0</text><text x="745" y="241.5" text-anchor="start" font-size="9.8" fill="#1a1a1a"  textLength="22.52" lengthAdjust="spacingAndGlyphs">200.0</text><text x="745" y="210.5" text-anchor="start" font-size="9.8" fill="#1a1a1a"  textLength="22.52" lengthAdjust="spacingAndGlyphs">220.0</text><text x="745" y="179.5" text-anchor="start" font-size="9.8" fill="#1a1a1a"  textLength="22.52" lengthAdjust="spacingAndGlyphs">240.0</text><text x="745" y="148.5" text-anchor="start" font-size="9.8" fill="#1a1a1a"  textLength="22.52" lengthAdjust="spacingAndGlyphs">260.0</text><text x="745" y="117.5" text-anchor="start" font-size="9.8" fill="#1a1a1a"  textLength="22.52" lengthAdjust="spacingAndGlyphs">280.0</text><text x="745" y="86.5" text-anchor="start" font-size="9.8" fill="#1a1a1a"  textLength="22.52" lengthAdjust="spacingAndGlyphs">300.0</text><text x="745" y="54.5" text-anchor="start" font-size="9.8" fill="#1a1a1a"  textLength="22.52" lengthAdjust="spacingAndGlyphs">320.0</text><text x="745" y="30.5" text-anchor="start" font-size="9.8" fill="#1a1a1a"  textLength="22.52" lengthAdjust="spacingAndGlyphs">335.7</text><text x="48.5" y="565" text-anchor="middle" font-size="9" fill="#1a1a1a" >1000</text><text x="77.5" y="565" text-anchor="middle" font-size="9" fill="#1a1a1a" >1250</text><text x="105.5" y="565" text-anchor="middle" font-size="9" fill="#1a1a1a" >1500</text><text x="134.5" y="565" text-anchor="middle" font-size="9" fill="#1a1a1a" >1750</text><text x="163.5" y="565" text-anchor="middle" font-size="9" fill="#1a1a1a" >2000</text><text x="192.5" y="565" text-anchor="middle" font-size="9" fill="#1a1a1a" >2250</text><text x="220.5" y="565" text-anchor="middle" font-size="9" fill="#1a1a1a" >2500</text><text x="249.5" y="565" text-anchor="middle" font-size="9" fill="#1a1a1a" >2750</text><text x="278.5" y="565" text-anchor="middle" font-size="9" fill="#1a1a1a" >3000</text><text x="307.5" y="565" text-anchor="middle" font-size="9" fill="#1a1a1a" >3250</text><text x="336.5" y="565" text-anchor="middle" font-size="9" fill="#1a1a1a" >3500</text><text x="364.5" y="565" text-anchor="middle" font-size="9" fill="#1a1a1a" >3750</text><text x="393.5" y="565" text-anchor="middle" font-size="9" fill="#1a1a1a" >4000</text><text x="422.5" y="565" text-anchor="middle" font-size="9" fill="#1a1a1a" >4250</text><text x="451.5" y="565" text-anchor="middle" font-size="9" fill="#1a1a1a" >4500</text><text x="479.5" y="565" text-anchor="middle" font-size="9" fill="#1a1a1a" >4750</text><text x="508.5" y="565" text-anchor="middle" font-size="9" fill="#1a1a1a" >5000</text><text x="537.5" y="565" text-anchor="middle" font-size="9" fill="#1a1a1a" >5250</text><text x="566.5" y="565" text-anchor="middle" font-size="9" fill="#1a1a1a" >5500</text><text x="594.5" y="565" text-anchor="middle" font-size="9" fill="#1a1a1a" >5750</text><text x="623.5" y="565" text-anchor="middle" font-size="9" fill="#1a1a1a" >6000</text><text x="652.5" y="565" text-anchor="middle" font-size="9" fill="#1a1a1a" >6250</text><text x="681.5" y="565" text-anchor="middle" font-size="9" fill="#1a1a1a" >6500</text><text x="709.5" y="565" text-anchor="middle" font-size="9" fill="#1a1a1a" >6750</text><text x="738.5" y="565" text-anchor="middle" font-size="9" fill="#1a1a1a" >7000</text><text x="393.5" y="579.5" text-anchor="middle" font-size="9" fill="#1a1a1a" textLength="65.5" lengthAdjust="spacingAndGlyphs">Toerental (rpm)</text><text x="6" y="8" font-size="9.2" fill="#b42a2a" textLength="277" lengthAdjust="spacingAndGlyphs">Gemeten aandrijf verliezen toegevoegd!(Aandrijf rendement: 95.0%)</text><text x="314.8" y="13.6" font-size="16" font-weight="bold" fill="#000" textLength="163.4" lengthAdjust="spacingAndGlyphs">Vermogenskromme</text><text transform="translate(13.9,343.5) rotate(-90)" font-size="9" fill="#1a1a1a" textLength="107.5" lengthAdjust="spacingAndGlyphs">EEC Motor Vermogen (pk)</text><text transform="translate(770.5,254) rotate(90)" font-size="9" fill="#1a1a1a" textLength="72.7" lengthAdjust="spacingAndGlyphs">EEC Torque (Nm)</text>
</svg></body></html>
